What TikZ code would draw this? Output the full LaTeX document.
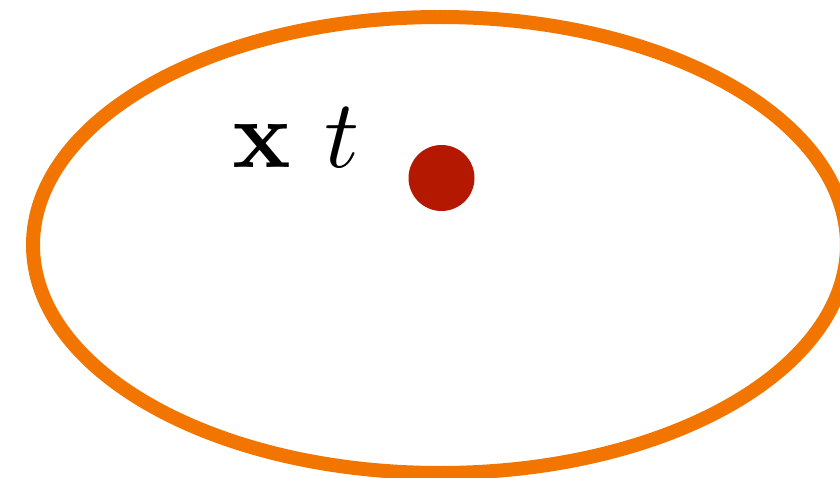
\documentclass[tikz,border=0pt]{standalone}
\definecolor{ringorange}{HTML}{F27500}
\definecolor{dotred}{HTML}{B51800}
\begin{document}
\begin{tikzpicture}[x=1pt,y=-1pt,
  ring/.style={draw=ringorange,line width=14pt},
  dot/.style={circle,fill=dotred,inner sep=0pt,minimum size=66pt},
  lbl/.style={inner sep=0pt,scale=9.7,font=\normalsize}]
\useasboundingbox (0,0) rectangle (840,478);
\draw[ring] (440,245) ellipse [x radius=407pt, y radius=228pt];
\node[dot] (p) at (441.5,178) {};
\node[lbl,anchor=base west] (lab) at (231,168) {$\mathbf{x}\ t$};
\end{tikzpicture}
\end{document}
